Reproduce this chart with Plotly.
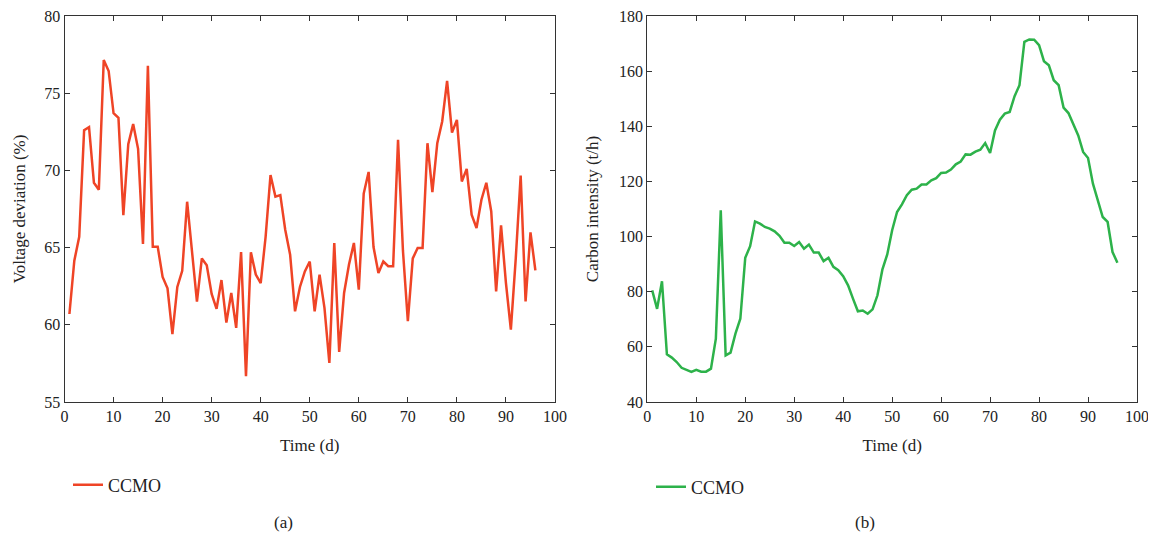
import plotly.graph_objects as go

# ---- data ----
time_a = list(range(1, 97))
voltage_dev = [60.7, 64.15, 65.7, 72.6, 72.8, 69.2, 68.75, 77.15, 76.44, 73.7,
               73.4, 67.1, 71.7, 73.0, 71.4, 65.23, 76.77, 65.06, 65.06, 63.1,
               62.36, 59.4, 62.45, 63.5, 67.97, 64.5, 61.5, 64.3, 63.85, 62.0,
               61.03, 62.9, 60.14, 62.06, 59.8, 64.71, 56.67, 64.7, 63.25, 62.7,
               65.7, 69.7, 68.3, 68.4, 66.16, 64.54, 60.87, 62.45, 63.46, 64.1,
               60.87, 63.25, 61.1, 57.53, 65.3, 58.25, 62.06, 63.9, 65.3, 62.28,
               68.5, 69.9, 65.04, 63.35, 64.1, 63.8, 63.8, 71.98, 64.8, 60.23,
               64.3, 64.97, 64.97, 71.76, 68.6, 71.76, 73.17, 75.8, 72.45, 73.27,
               69.28, 70.1, 67.13, 66.27, 68.1, 69.2, 67.34, 62.17, 66.44, 62.7,
               59.69, 64.3, 69.67, 61.52, 65.99, 63.53]

time_b = list(range(1, 97))
carbon = [80.5, 73.8, 83.8, 57.3, 56.1, 54.5, 52.4, 51.7, 50.9, 51.7,
          51.0, 51.0, 52.1, 63.0, 109.5, 56.9, 57.9, 64.8, 70.2, 92.3,
          96.5, 105.5, 104.7, 103.5, 102.9, 101.9, 100.3, 97.8, 97.8, 96.6,
          98.0, 95.6, 97.1, 94.2, 94.2, 91.1, 92.3, 89.0, 87.8, 85.6,
          82.3, 77.5, 72.9, 73.2, 72.0, 73.6, 78.7, 88.0, 93.5, 102.3,
          108.9, 111.7, 115.0, 117.0, 117.4, 118.9, 118.9, 120.4, 121.2, 123.1,
          123.2, 124.3, 126.2, 127.2, 129.8, 129.7, 130.8, 131.5, 133.9, 130.3,
          138.5, 142.4, 144.6, 145.2, 150.9, 154.9, 170.6, 171.5, 171.4, 169.4,
          163.6, 162.1, 156.7, 154.9, 146.8, 144.8, 140.7, 136.7, 130.7, 128.5,
          119.2, 113.4, 107.1, 105.3, 94.4, 90.5]

x_ticks = [0, 10, 20, 30, 40, 50, 60, 70, 80, 90, 100]
ya_ticks = [55, 60, 65, 70, 75, 80]
yb_ticks = [40, 60, 80, 100, 120, 140, 160, 180]

RED = "#EF4426"
GREEN = "#2DB24A"
FONT = "Liberation Serif"
AX = "#333333"

W, H = 1156, 540
OFF = 8  # default page body margin


def px_x(p):
    return (p - OFF) / W


def px_y(p):
    return 1 - (p - OFF) / H


fig = go.Figure()
fig.add_trace(go.Scatter(x=time_a, y=voltage_dev, mode="lines", name="CCMO",
                         line=dict(color=RED, width=2.5), xaxis="x", yaxis="y",
                         legend="legend"))
fig.add_trace(go.Scatter(x=time_b, y=carbon, mode="lines", name="CCMO",
                         line=dict(color=GREEN, width=2.5), xaxis="x2", yaxis="y2",
                         legend="legend2"))

common_axis = dict(showline=True, linecolor=AX, linewidth=1.2, mirror="ticks",
                   ticks="inside", ticklen=5, tickcolor=AX, tickwidth=1.2,
                   showgrid=False, zeroline=False, automargin=False,
                   ticklabeloverflow="allow",
                   tickfont=dict(family=FONT, size=16, color="#222"))

fig.update_layout(
    width=W, height=H,
    margin=dict(l=0, r=0, t=0, b=0),
    paper_bgcolor="white", plot_bgcolor="white",
    font=dict(family=FONT, size=16, color="#222"),
    xaxis=dict(domain=[px_x(64.5), px_x(555)], range=[0, 100], tickvals=x_ticks,
               title=dict(text="Time (d)", font=dict(family=FONT, size=17), standoff=14),
               anchor="y", **common_axis),
    yaxis=dict(domain=[px_y(402), px_y(16)], range=[55, 80], tickvals=ya_ticks,
               title=dict(text="Voltage deviation (%)", font=dict(family=FONT, size=17), standoff=14),
               anchor="x", **common_axis),
    xaxis2=dict(domain=[px_x(647.3), px_x(1137)], range=[0, 100], tickvals=x_ticks,
                title=dict(text="Time (d)", font=dict(family=FONT, size=17), standoff=14),
                anchor="y2", **common_axis),
    yaxis2=dict(domain=[px_y(402), px_y(16)], range=[40, 180], tickvals=yb_ticks,
                title=dict(text="Carbon intensity (t/h)", font=dict(family=FONT, size=17), standoff=16),
                anchor="x2", **common_axis),
    legend=dict(x=px_x(74) - 6 / W, y=px_y(485), xanchor="left", yanchor="middle",
                orientation="h", font=dict(family=FONT, size=18, color="#222"),
                bgcolor="rgba(0,0,0,0)"),
    legend2=dict(x=px_x(657) - 6 / W, y=px_y(487), xanchor="left", yanchor="middle",
                 orientation="h", font=dict(family=FONT, size=18, color="#222"),
                 bgcolor="rgba(0,0,0,0)"),
    showlegend=True,
    annotations=[
        dict(text="(a)", x=px_x(283), y=px_y(522), xref="paper", yref="paper",
             xanchor="center", yanchor="middle",
             showarrow=False, font=dict(family=FONT, size=17, color="#222")),
        dict(text="(b)", x=px_x(865), y=px_y(522), xref="paper", yref="paper",
             xanchor="center", yanchor="middle",
             showarrow=False, font=dict(family=FONT, size=17, color="#222")),
    ],
)

fig.write_html("out.html")
